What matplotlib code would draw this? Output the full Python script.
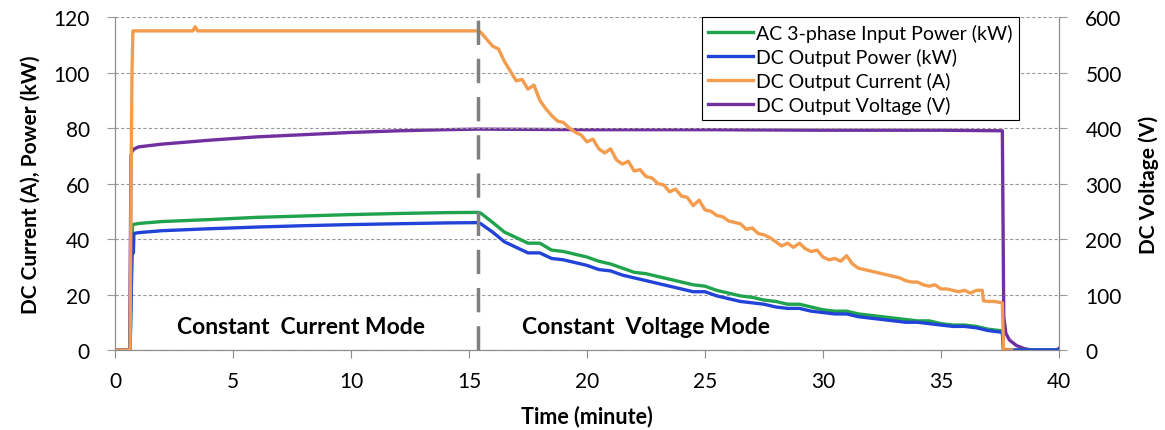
import matplotlib.pyplot as plt

plt.rcParams['font.family'] = ['Lato', 'DejaVu Sans']

# constant current phase (sparse, the lines are smooth here)
t_cc = [0, 0.64, 0.68, 0.72, 0.76, 0.8, 1, 2, 3.3, 3.4, 3.5, 4, 6, 8, 10, 12, 14, 15.4]
cur_cc = [0, 0, 60, 100, 115, 115, 115, 115, 115, 116.5, 115, 115, 115, 115, 115, 115, 115, 115]

t_pw_cc = [0, 0.64, 0.7, 0.74, 0.78, 0.8, 1, 2, 4, 6, 8, 10, 12, 14, 15.4]
ac_cc = [0, 0, 30, 45, 45.2, 45.3, 45.6, 46.3, 47.0, 47.8, 48.3, 48.8, 49.2, 49.5, 49.6]
dc_cc = [0, 0, 25, 41.5, 35, 42, 42.3, 43.0, 43.7, 44.3, 44.8, 45.2, 45.5, 45.8, 45.9]

# constant voltage phase, current read every 15 s
t_cur_cv = [15.5, 15.75, 16.0, 16.25, 16.5, 16.75, 17.0, 17.25, 17.5, 17.75,
            18.0, 18.25, 18.5, 18.75, 19.0, 19.25, 19.5, 19.75, 20.0, 20.25,
            20.5, 20.75, 21.0, 21.25, 21.5, 21.75, 22.0, 22.25, 22.5, 22.75,
            23.0, 23.25, 23.5, 23.75, 24.0, 24.25, 24.5, 24.75, 25.0, 25.25,
            25.5, 25.75, 26.0, 26.25, 26.5, 26.75, 27.0, 27.25, 27.5, 27.75,
            28.0, 28.25, 28.5, 28.75, 29.0, 29.25, 29.5, 29.75, 30.0, 30.25,
            30.5, 30.75, 31.0, 31.25, 31.5, 31.75, 32.0, 32.25, 32.5, 32.75,
            33.0, 33.25, 33.5, 33.75, 34.0, 34.25, 34.5, 34.75, 35.0, 35.25,
            35.5, 35.75, 36.0, 36.25, 36.5, 36.75, 36.8, 37.0, 37.25, 37.6,
            37.65, 38.0]
cur_cv = [114.5, 112.0, 109.5, 108.5, 104.0, 100.5, 97.0, 97.5, 94.0, 95.5,
          90.0, 87.0, 84.5, 82.5, 82.0, 80.0, 78.5, 77.5, 75.0, 76.0,
          72.5, 71.0, 72.5, 68.5, 67.0, 68.0, 64.5, 65.0, 62.5, 62.0,
          60.0, 59.5, 57.0, 58.0, 55.5, 55.0, 52.0, 54.0, 50.5, 50.0,
          48.5, 48.0, 46.5, 46.0, 45.5, 43.5, 44.0, 42.0, 41.5, 40.5,
          39.0, 37.5, 38.5, 37.0, 38.5, 36.5, 35.5, 36.0, 33.5, 32.5,
          33.0, 32.0, 34.0, 31.0, 29.5, 29.0, 28.5, 28.0, 27.5, 27.0,
          26.5, 26.0, 25.0, 24.5, 24.5, 23.5, 23.0, 23.5, 22.0, 22.0,
          21.5, 21.0, 21.5, 20.5, 21.5, 21.5, 17.7, 17.5, 17.5, 17.0,
          0, 0]

# constant voltage phase, powers read every 30 s
t_pw_cv = [15.5, 16.0, 16.5, 17.0, 17.5, 18.0, 18.5, 19.0, 19.5, 20.0,
           20.5, 21.0, 21.5, 22.0, 22.5, 23.0, 23.5, 24.0, 24.5, 25.0,
           25.5, 26.0, 26.5, 27.0, 27.5, 28.0, 28.5, 29.0, 29.5, 30.0,
           30.5, 31.0, 31.5, 32.0, 32.5, 33.0, 33.5, 34.0, 34.5, 35.0,
           35.5, 36.0, 36.5, 37.0, 37.5, 37.6, 37.65, 40.0]
ac_cv = [49.3, 46.0, 42.5, 40.5, 38.5, 38.5, 36.0, 35.5, 34.5, 33.5,
         32.0, 31.0, 29.5, 28.0, 27.5, 26.5, 25.5, 24.5, 23.5, 23.0,
         21.5, 20.5, 19.5, 19.0, 18.0, 17.5, 16.5, 16.5, 15.5, 14.5,
         14.0, 14.0, 13.0, 12.5, 12.0, 11.5, 11.0, 10.5, 10.5, 9.5,
         9.0, 9.0, 8.5, 7.5, 7.0, 6.8, 0, 0]
dc_cv = [45.5, 42.5, 39.0, 37.0, 35.0, 35.0, 33.0, 32.5, 31.5, 30.5,
         29.0, 28.5, 27.0, 26.0, 25.0, 24.0, 23.0, 22.0, 21.0, 21.0,
         19.5, 18.5, 17.5, 17.0, 16.5, 15.5, 15.0, 15.0, 14.0, 13.5,
         13.0, 13.0, 12.0, 11.5, 11.0, 10.5, 10.0, 10.0, 9.5, 9.0,
         8.5, 8.5, 8.0, 7.0, 6.5, 6.2, 0, 0]

# output voltage over the whole session
t_volt = [0, 0.62, 0.68, 0.72, 0.8, 1, 2, 4, 6, 8, 10, 12, 14, 15.4, 20, 25,
          30, 35, 37.6, 37.66, 37.75, 37.9, 38.2, 38.5, 38.8, 39.9, 40]
volt = [0, 0, 350, 358, 362, 366, 371, 378, 384, 388, 392, 395, 397, 398, 397, 397,
        396, 396, 395, 60, 30, 18, 8, 3, 0, 0, 3]

cc_end = 15.4

fig = plt.figure(figsize=(11.65, 4.31), dpi=100)
ax = fig.add_axes([0.0987, 0.1856, 0.8103, 0.7726])
ax2 = ax.twinx()

lw = 2.4
c_ac = '#1fa34c'
c_dc = '#2143d8'
c_cur = '#f39c4d'
c_volt = '#7030a0'

l1, = ax.plot(t_pw_cc + t_pw_cv, ac_cc + ac_cv, color=c_ac, lw=lw,
              label='AC 3-phase Input Power (kW)')
l2, = ax.plot(t_pw_cc + t_pw_cv, dc_cc + dc_cv, color=c_dc, lw=lw,
              label='DC Output Power (kW)')
l3, = ax.plot(t_cc + t_cur_cv, cur_cc + cur_cv, color=c_cur, lw=lw,
              label='DC Output Current (A)')
l4, = ax2.plot(t_volt, volt, color=c_volt, lw=lw, label='DC Output Voltage (V)')

ax.set_zorder(ax2.get_zorder() + 1)
ax.patch.set_visible(False)

ax.axvline(cc_end, color='#808080', lw=2.5, dashes=(7, 4))

ax.set_xlim(0, 40)
ax.set_ylim(0, 120)
ax2.set_ylim(0, 600)
ax.set_xticks(range(0, 41, 5))
ax.set_yticks(range(0, 121, 20))
ax2.set_yticks(range(0, 601, 100))

ax.grid(axis='y', color='#9a9a9a', lw=0.8, ls=(0, (3, 2)))
for a in (ax, ax2):
    a.spines['top'].set_visible(False)
    for s in ('left', 'right', 'bottom'):
        a.spines[s].set_color('#8c8c8c')
ax.tick_params(axis='y', length=6, color='#9a9a9a', labelsize=15, pad=12)
ax2.tick_params(axis='y', length=6, color='#9a9a9a', labelsize=15, pad=13)
ax.tick_params(axis='x', length=6, color='#8c8c8c', labelsize=15, pad=9)

ax.set_xlabel('Time (minute)', fontsize=15.5, fontweight='bold', labelpad=10)
ax.set_ylabel('DC Current (A), Power (kW)', fontsize=15, fontweight='bold', labelpad=9)
ax2.set_ylabel('DC Voltage (V)', fontsize=15, fontweight='bold', labelpad=12)

ax.text(7.9, 8.6, 'Constant  Current Mode', fontsize=16.5, fontweight='bold',
        ha='center', va='center')
ax.text(22.5, 8.6, 'Constant  Voltage Mode', fontsize=16.5, fontweight='bold',
        ha='center', va='center')

leg = ax.legend(handles=[l1, l2, l3, l4], loc='upper left',
                bbox_to_anchor=(0.6215, 1.0), fontsize=14, frameon=True,
                fancybox=False, framealpha=1, edgecolor='black',
                borderpad=0.35, labelspacing=0.3, handlelength=2.3,
                handletextpad=0.15, borderaxespad=0)
leg.get_frame().set_linewidth(0.8)

fig.savefig('out.png', dpi=100)
